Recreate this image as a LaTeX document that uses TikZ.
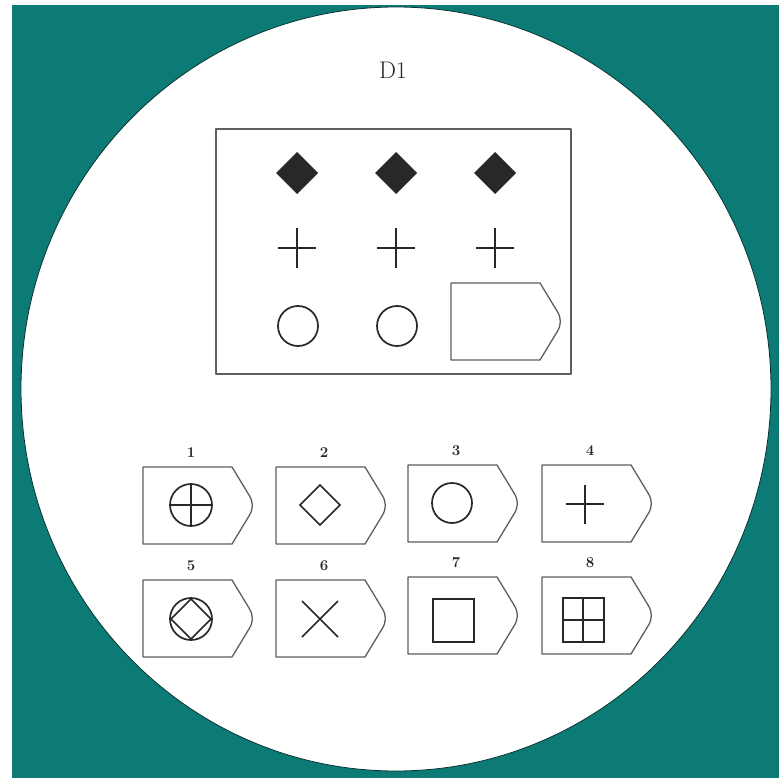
\documentclass[tikz,border=0pt]{standalone}
\usepackage{fontspec}
\usepackage{tikz}
\definecolor{teal0}{RGB}{12,123,118}
\definecolor{ink}{RGB}{40,40,40}
\begin{document}
\begin{tikzpicture}[x=1pt,y=-1pt,
  cardline/.style={draw=ink!75,line width=1.3pt,line join=round},
  sym/.style={draw=ink,line width=1.7pt},
  numlabel/.style={font=\fontsize{15}{17}\selectfont\bfseries,text=ink},
  card/.pic={\path[cardline] (0,0) -- (89,0) -- (106,28) .. controls (110.5,35) and (110.5,42) .. (106,49) -- (89,77) -- (0,77) -- cycle;}]
\useasboundingbox (0,0) rectangle (779,778);
\fill[white] (0,0) rectangle (779,778);
\fill[teal0] (12,5) rectangle (779,778);
\fill[white] (396,389) ellipse [x radius=375, y radius=382];
\draw[teal0!40!black,line width=0.8pt] (396,389) ellipse [x radius=375, y radius=382];
\node[font=\fontsize{24}{26}\selectfont,text=ink] (title) at (393,70) {D1};
% matrix box
\draw[cardline] (216,129) rectangle (571,374);
\foreach \x [count=\i] in {297,396,495}{
  \fill[ink] (\x,152) -- (\x+21,173) -- (\x,194) -- (\x-21,173) -- cycle;
  \draw[sym] (\x-19,248) -- (\x+19,248) (\x,228) -- (\x,268);
}
\draw[sym] (298,326) circle (20);
\draw[sym] (397,326) circle (20);
\pic at (451,283) {card};
% answer cards
\foreach \x/\y/\n in {143/467/1,276/467/2,408/465/3,542/465/4,143/580/5,276/580/6,408/577/7,542/577/8}{
  \pic at (\x,\y) {card};
  \node[numlabel] (lab\n) at (\x+48,\y-14) {\n};
}
% symbols
\draw[sym] (191,505) circle (21) (170,505) -- (212,505) (191,484) -- (191,526);
\draw[sym] (320,485) -- (340,505) -- (320,525) -- (300,505) -- cycle;
\draw[sym] (452,503) circle (20);
\draw[sym] (566,504) -- (604,504) (585,485) -- (585,524);
\draw[sym] (191,619) circle (21);
\draw[sym] (191,599) -- (211,619) -- (191,639) -- (171,619) -- cycle;
\draw[sym] (302,601) -- (338,637) (338,601) -- (302,637);
\draw[sym] (433,599) rectangle (474,642);
\draw[sym] (563,598) rectangle (604,642) (563,620) -- (604,620) (583,598) -- (583,642);
\end{tikzpicture}
\end{document}
